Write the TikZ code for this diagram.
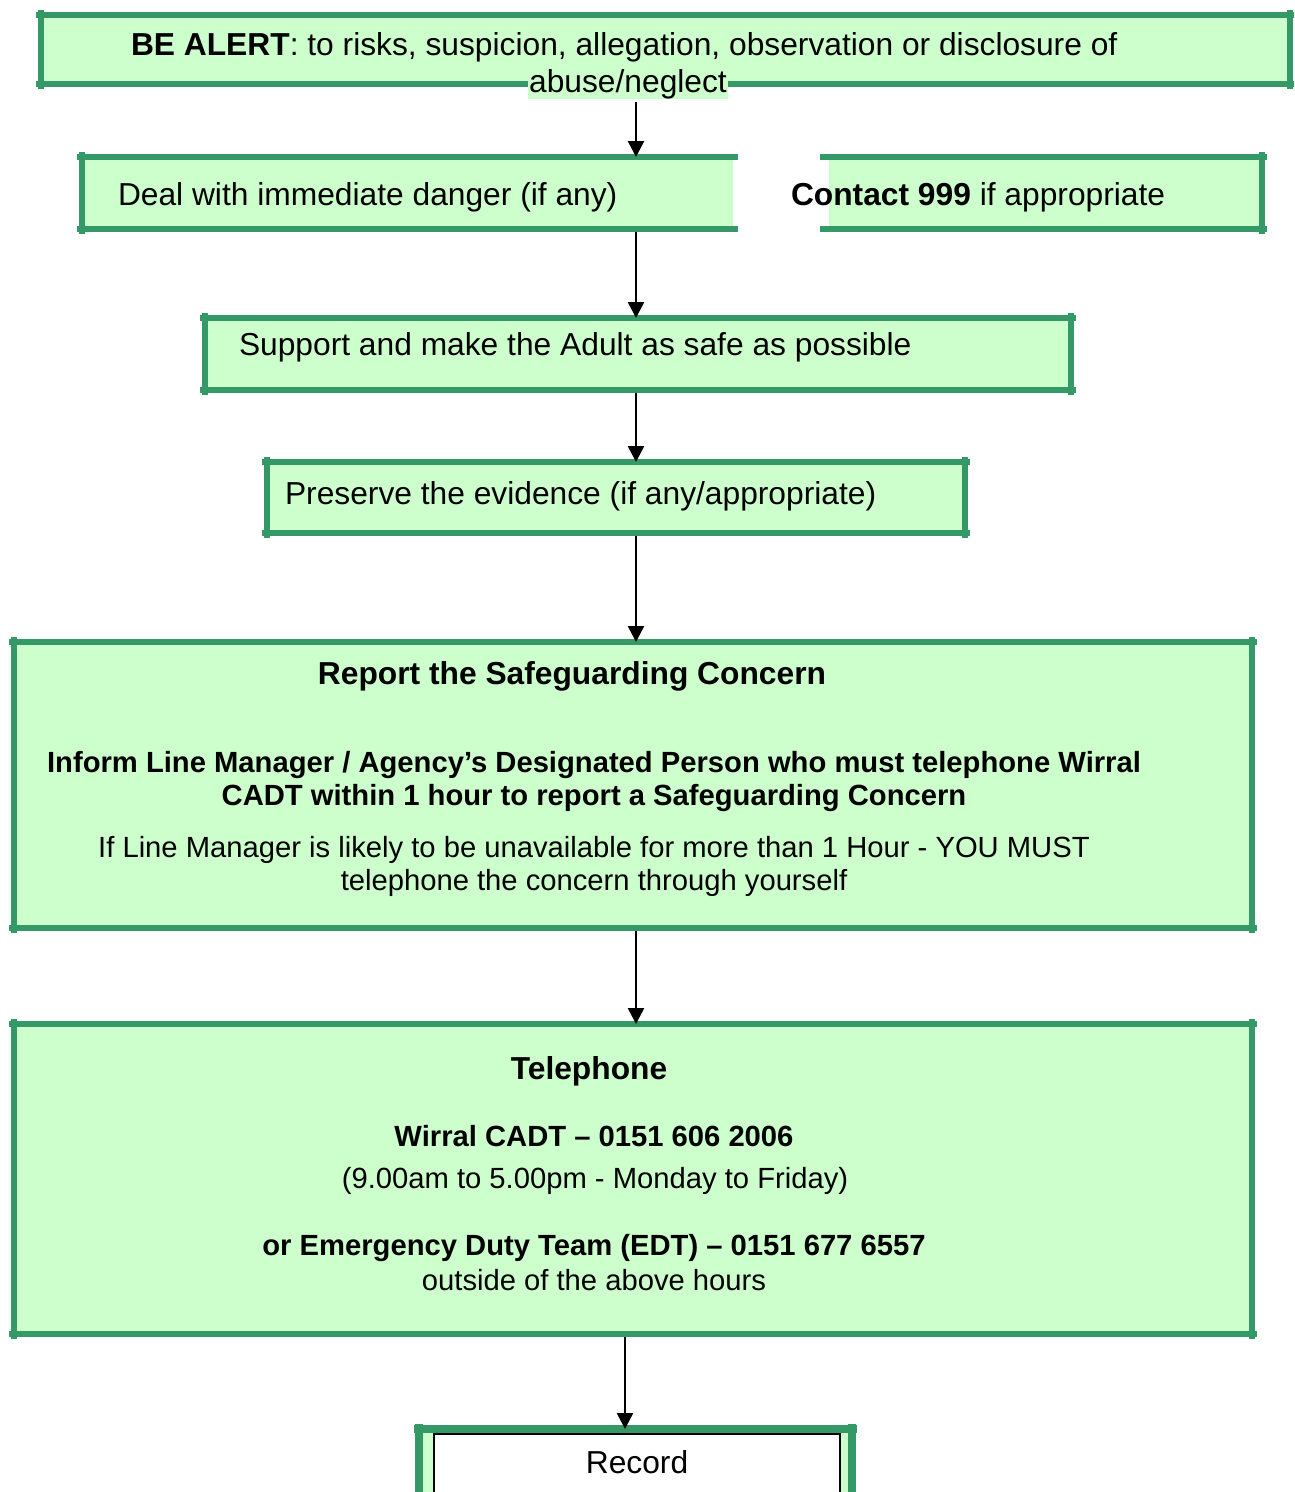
\documentclass[tikz,border=0pt]{standalone}
\usepackage{fontspec}
\setmainfont{Liberation Sans}
\usetikzlibrary{arrows.meta}
\definecolor{gborder}{HTML}{349966}
\definecolor{gfill}{HTML}{CCFFCC}
\newcommand{\fullborder}[1]{%
 \draw[bord] ([xshift=-5pt]#1.north west) -- ([xshift=5pt]#1.north east);
 \draw[bord] ([xshift=-5pt]#1.south west) -- ([xshift=5pt]#1.south east);
 \draw[bord] ([yshift=5pt]#1.north west) -- ([yshift=-5pt]#1.south west);
 \draw[bord] ([yshift=5pt]#1.north east) -- ([yshift=-5pt]#1.south east);}
\begin{document}
\begin{tikzpicture}[x=1pt,y=-1pt,
  fillbox/.style={rectangle, fill=gfill, inner sep=0pt, outer sep=0pt, anchor=north west},
  bord/.style={draw=gborder, line width=6.5pt},
  txt/.style={inner sep=0pt, outer sep=0pt, font=\fontsize{31.75}{33}\selectfont},
  btxt/.style={inner sep=0pt, outer sep=0pt, font=\fontsize{31.75}{33}\selectfont\bfseries},
  stxt/.style={inner sep=0pt, outer sep=0pt, font=\fontsize{29.2}{33}\selectfont},
  sbtxt/.style={inner sep=0pt, outer sep=0pt, font=\fontsize{29.2}{33}\selectfont\bfseries},
  arr/.style={line width=2.5pt, shorten <=3pt, -{Triangle[length=16pt,width=16pt]}}]
\useasboundingbox (0,0) rectangle (1294,1492);
\fill[white] (0,0) rectangle (1294,1492);
\clip (0,0) rectangle (1294,1492);
% box fills
\node[fillbox, minimum width=1249pt, minimum height=69pt] (alert) at (41,15) {};
\node[fillbox, minimum width=651pt, minimum height=72pt] (deal) at (82,157) {};
\node[fillbox, minimum width=433pt, minimum height=72pt] (contact) at (829,157) {};
\node[fillbox, minimum width=866pt, minimum height=72pt] (support) at (205,318) {};
\node[fillbox, minimum width=698pt, minimum height=71pt] (preserve) at (267,462) {};
\node[fillbox, minimum width=1238pt, minimum height=286pt] (report) at (14,642) {};
\node[fillbox, minimum width=1238pt, minimum height=310pt] (tel) at (14,1024) {};
\node[fillbox, minimum width=433pt, minimum height=100pt] (recordout) at (419,1429) {};
% borders
\fullborder{alert}
\draw[bord] ([xshift=-5pt]deal.north west) -- ([xshift=5pt]deal.north east);
\draw[bord] ([xshift=-5pt]deal.south west) -- ([xshift=5pt]deal.south east);
\draw[bord] ([yshift=5pt]deal.north west) -- ([yshift=-5pt]deal.south west);
\draw[bord] ([xshift=-9pt]contact.north west) -- ([xshift=5pt]contact.north east);
\draw[bord] ([xshift=-9pt]contact.south west) -- ([xshift=5pt]contact.south east);
\draw[bord] ([yshift=5pt]contact.north east) -- ([yshift=-5pt]contact.south east);
\fullborder{support}
\fullborder{preserve}
\fullborder{report}
\fullborder{tel}
\draw[bord, line width=7.5pt] ([xshift=-5pt]recordout.north west) -- ([xshift=5pt]recordout.north east);
\draw[bord, line width=7.5pt] ([yshift=5pt]recordout.north west) -- (recordout.south west);
\draw[bord, line width=7.5pt] ([yshift=5pt]recordout.north east) -- (recordout.south east);
\node[rectangle, fill=white, draw=black, line width=1.5pt, inner sep=0pt, anchor=north west,
      minimum width=406pt, minimum height=100pt] (recordin) at (433,1433) {};
% texts
\node[txt, anchor=base west] (al1) at (131,55) {\textbf{BE ALERT}: to risks, suspicion, allegation, observation or disclosure of};
\node[txt, anchor=base, fill=gfill, inner xsep=1.5pt, text height=20pt, text depth=7pt] (al2) at (628,92) {abuse/neglect};
\node[txt, anchor=base west] (dealt) at (118,205) {Deal with immediate danger (if any)};
\node[txt, anchor=base west] (contactt) at (791,205) {\textbf{Contact 999} if appropriate};
\node[txt, anchor=base west] (supportt) at (239,355) {Support and make the Adult as safe as possible};
\node[txt, anchor=base west] (preservet) at (285,504) {Preserve the evidence (if any/appropriate)};
\node[btxt, anchor=base] (rep1) at (572,684) {Report the Safeguarding Concern};
\node[sbtxt, anchor=base] (rep2) at (594,772) {Inform Line Manager / Agency’s Designated Person who must telephone Wirral};
\node[sbtxt, anchor=base] (rep3) at (594,805) {CADT within 1 hour to report a Safeguarding Concern};
\node[stxt, anchor=base] (rep4) at (594,857) {If Line Manager is likely to be unavailable for more than 1 Hour - YOU MUST};
\node[stxt, anchor=base] (rep5) at (594,890) {telephone the concern through yourself};
\node[btxt, anchor=base] (tel1) at (589,1079) {Telephone};
\node[sbtxt, anchor=base] (tel2) at (594,1146) {Wirral CADT – 0151 606 2006};
\node[stxt, anchor=base] (tel3) at (595,1188) {(9.00am to 5.00pm - Monday to Friday)};
\node[sbtxt, anchor=base] (tel4) at (594,1255) {or Emergency Duty Team (EDT) – 0151 677 6557};
\node[stxt, anchor=base] (tel5) at (594,1290) {outside of the above hours};
\node[txt, anchor=base] (rect) at (637,1473) {Record};
% connectors
\coordinate (ax) at (636,0);
\coordinate (bx) at (625,0);
\draw[arr] (al2.south -| ax) -- (deal.north -| ax);
\draw[arr] (deal.south -| ax) -- (support.north -| ax);
\draw[arr] (support.south -| ax) -- (preserve.north -| ax);
\draw[arr] (preserve.south -| ax) -- (report.north -| ax);
\draw[arr] (report.south -| ax) -- (tel.north -| ax);
\draw[arr] (tel.south -| bx) -- (recordout.north -| bx);
\end{tikzpicture}
\end{document}
